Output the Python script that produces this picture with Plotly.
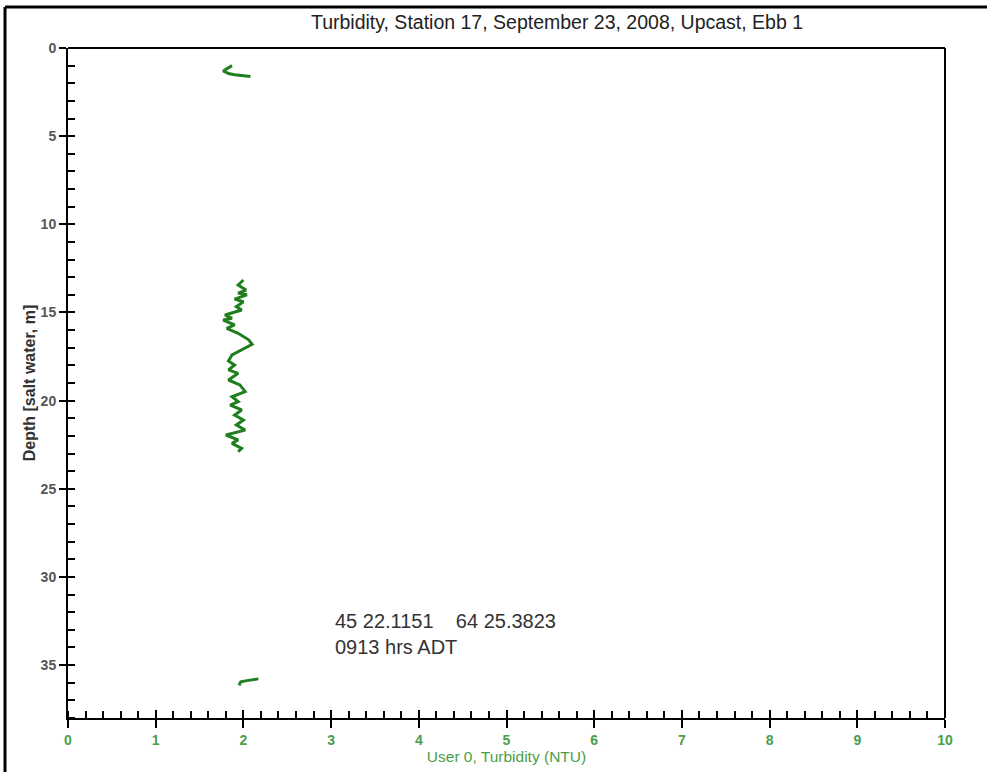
import plotly.graph_objects as go

# CTD upcast profile: turbidity (NTU) against depth (m), three recorded stretches
top_turbidity = [1.87, 1.82, 1.77, 1.83, 1.90, 2.08]
top_depth = [1.00, 1.15, 1.30, 1.45, 1.52, 1.62]

mid_turbidity = [2.00, 1.94, 2.03, 1.94, 2.04, 1.90, 2.00, 1.92, 1.98, 1.79, 1.87, 1.77,
                 1.90, 1.81, 1.94, 2.06, 2.10, 1.98, 1.87, 1.83, 1.90, 1.83, 1.94,
                 1.83, 1.96, 2.02, 1.87, 1.94, 1.85, 1.98, 1.90, 2.00, 1.92, 2.02,
                 1.80, 1.94, 1.87, 1.98, 1.94]
mid_depth = [13.16, 13.44, 13.73, 13.90, 14.00, 14.24, 14.39, 14.67, 14.86, 15.14, 15.33, 15.43,
             15.71, 15.90, 16.18, 16.55, 16.80, 17.13, 17.41, 17.75, 17.98, 18.26, 18.45,
             18.83, 19.11, 19.49, 19.78, 20.06, 20.25, 20.53, 20.82, 21.10, 21.38, 21.67,
             21.95, 22.23, 22.42, 22.71, 22.90]

bot_turbidity = [1.95, 1.97, 2.04, 2.17]
bot_depth = [36.15, 35.95, 35.88, 35.78]

x_ticks = list(range(0, 11))
y_ticks = list(range(0, 40, 5))

title_text = "Turbidity, Station 17, September 23, 2008, Upcast, Ebb 1"
note_text = "45 22.1151&nbsp;&nbsp;&nbsp;&nbsp;64 25.3823<br>0913 hrs ADT"

FONT = "Arial, Liberation Sans, sans-serif"
LINE_GREEN = "#1f7f1f"
LABEL_GREEN = "#4a9e4a"

# join the stretches with gaps so they are not connected
x_all = top_turbidity + [None] + mid_turbidity + [None] + bot_turbidity
y_all = top_depth + [None] + mid_depth + [None] + bot_depth

fig = go.Figure()
fig.add_trace(go.Scatter(
    x=x_all, y=y_all, mode="lines", connectgaps=False,
    line=dict(color=LINE_GREEN, width=3),
    showlegend=False, hoverinfo="skip",
))
# invisible trace that carries the inner half of the major x ticks
fig.add_trace(go.Scatter(x=[0, 10], y=[38, 38], mode="markers", xaxis="x2",
                         marker=dict(opacity=0), showlegend=False, hoverinfo="skip"))

L, R, T, B = 68, 42, 48, 54
W, H = 987, 772
pw, ph = W - L - R, H - T - B

fig.update_layout(
    width=W, height=H,
    margin=dict(l=L, r=R, t=T, b=B),
    paper_bgcolor="white", plot_bgcolor="white",
    font=dict(family=FONT, color="#333333"),
    title=dict(text=title_text, x=557 / W, xanchor="center",
               y=1 - 22 / H, yanchor="middle",
               font=dict(size=19.5, color="#222222", family=FONT)),
    xaxis=dict(
        range=[0, 10], tickvals=x_ticks, ticktext=[f"<b>{v}</b>" for v in x_ticks],
        ticks="outside", ticklen=8, tickwidth=2, tickcolor="black",
        tickfont=dict(size=14, color=LABEL_GREEN),
        minor=dict(dtick=0.2, ticks="inside", ticklen=7, tickwidth=1.5, tickcolor="black"),
        showline=True, linecolor="black", linewidth=2, mirror=False,
        showgrid=False, zeroline=False,
        title=dict(text="User 0, Turbidity (NTU)", standoff=0,
                   font=dict(size=15.5, color=LABEL_GREEN)),
    ),
    xaxis2=dict(
        range=[0, 10], overlaying="x", side="bottom", tickvals=x_ticks,
        showticklabels=False, ticks="inside", ticklen=8, tickwidth=2, tickcolor="black",
        showgrid=False, zeroline=False, showline=False,
    ),
    yaxis=dict(
        range=[38, 0], tickvals=y_ticks, ticktext=[f"<b>{v}</b>" for v in y_ticks],
        ticks="outside", ticklen=7, tickwidth=2, tickcolor="black",
        tickfont=dict(size=14, color="#555555"),
        minor=dict(dtick=1, ticks="inside", ticklen=7, tickwidth=2, tickcolor="black"),
        showline=True, linecolor="black", linewidth=2,
        showgrid=False, zeroline=False,
        title=dict(text="<b>Depth [salt water, m]</b>", standoff=1,
                   font=dict(size=16, color="#333333")),
    ),
    annotations=[dict(
        text=note_text, x=3.02, y=33.25, xref="x", yref="y",
        xanchor="left", yanchor="middle", align="left", showarrow=False,
        font=dict(size=20, color="#333333", family=FONT),
    )],
    shapes=[
        # top and right edges of the plotting box
        dict(type="line", xref="paper", yref="paper", x0=0, x1=1, y0=1, y1=1,
             line=dict(color="black", width=2)),
        dict(type="line", xref="paper", yref="paper", x0=1, x1=1, y0=0, y1=1,
             line=dict(color="black", width=2)),
        # outer frame lines of the page
        dict(type="line", xref="paper", yref="paper",
             x0=(5 - L) / pw, x1=(W - L) / pw, y0=1 + (T - 7) / ph, y1=1 + (T - 7) / ph,
             line=dict(color="black", width=3)),
        dict(type="line", xref="paper", yref="paper",
             x0=(5 - L) / pw, x1=(5 - L) / pw, y0=-B / ph, y1=1 + (T - 7) / ph,
             line=dict(color="black", width=3)),
    ],
)

fig.write_html("out.html")
